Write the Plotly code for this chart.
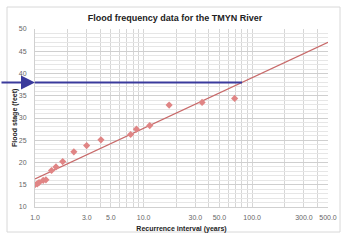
import numpy as np
import plotly.graph_objects as go

# ---- data ----
recurrence = [1.0, 1.05, 1.09, 1.19, 1.26, 1.42, 1.56, 1.80, 2.28, 2.99, 4.05,
              7.6, 8.6, 11.4, 17.2, 34.6, 69.0]
stage = [15.0, 15.2, 15.5, 16.0, 16.1, 18.2, 19.0, 20.2, 22.4, 23.8, 25.1,
         26.3, 27.5, 28.3, 32.9, 33.5, 34.4]
trend_x = [1.0, 500.0]
trend_y = [16.3, 47.0]
flood_stage = 38.0
x_ticks = [1, 3, 5, 10, 30, 50, 100, 300, 500]
x_ticktext = ["1.0", "3.0", "5.0", "10.0", "30.0", "50.0", "100.0", "300.0", "500.0"]
y_ticks = [10, 15, 20, 25, 30, 35, 40, 45, 50]

# trend line y = a + b*log10(x)
b = (trend_y[1] - trend_y[0]) / (np.log10(trend_x[1]) - np.log10(trend_x[0]))
a = trend_y[0] - b * np.log10(trend_x[0])
x_int = 10 ** ((flood_stage - a) / b)

minor_x = [m * 10 ** e for e in range(0, 3) for m in range(1, 10) if m * 10 ** e <= 500]

W, H = 350, 248
L, R, T, B = 35, 22, 29, 41
pw, ph = W - L - R, H - T - B

fig = go.Figure()
fig.add_trace(go.Scatter(x=trend_x, y=trend_y, mode="lines",
                         line=dict(color="#c86a6a", width=1.2), hoverinfo="skip"))
fig.add_trace(go.Scatter(x=recurrence, y=stage, mode="markers",
                         marker=dict(symbol="diamond", size=5.5, color="#e08585"),
                         hoverinfo="skip"))
fig.add_trace(go.Scatter(x=[trend_x[0], x_int], y=[flood_stage, flood_stage], mode="lines",
                         line=dict(color="#3a3a9c", width=2), hoverinfo="skip",
                         cliponaxis=False))

fig.add_annotation(x=0, y=flood_stage, xref="x", yref="y", ax=-36, ay=0,
                   axref="pixel", ayref="pixel", text="", showarrow=True,
                   arrowhead=2, arrowsize=1.4, arrowwidth=2, arrowcolor="#3a3a9c")

# y-axis title
fig.add_annotation(text="<b>Flood stage (feet)</b>", textangle=-90,
                   xref="paper", yref="paper", x=(15 - L) / pw, y=0.5,
                   xanchor="center", yanchor="middle", showarrow=False,
                   font=dict(size=7, color="#222222"))

# chart border
fig.add_shape(type="rect", xref="paper", yref="paper",
              x0=(7 - L) / pw, x1=(340 - L) / pw,
              y0=(H - B - 232) / ph, y1=(H - B - 7) / ph,
              line=dict(color="#d8d8d8", width=1), layer="below")

fig.update_layout(
    width=W, height=H,
    margin=dict(l=L, r=R, t=T, b=B),
    paper_bgcolor="white", plot_bgcolor="white",
    showlegend=False,
    font=dict(family="Liberation Sans, Arial, sans-serif", size=7, color="#666666"),
    title=dict(text="<b>Flood frequency data for the TMYN River</b>",
               x=0.5, xref="container", xanchor="center",
               y=1 - 18 / H, yref="container", yanchor="middle",
               font=dict(size=9, color="#222222")),
)
fig.update_xaxes(type="log", range=[0, np.log10(500)],
                 tickvals=x_ticks, ticktext=x_ticktext, showgrid=False,
                 ticks="", ticklabelstandoff=4,
                 minor=dict(tickvals=minor_x, showgrid=True, gridcolor="#d6d6d6", gridwidth=1, ticks=""),
                 showline=True, linecolor="#d0d0d0", zeroline=False, automargin=False,
                 title=dict(text="<b>Recurrence interval (years)</b>", standoff=5,
                            font=dict(size=7, color="#222222")))
fig.update_yaxes(range=[10, 50], tickvals=y_ticks, showgrid=True, gridcolor="#cfcfcf",
                 ticks="", ticklabelstandoff=6,
                 minor=dict(dtick=1, showgrid=True, gridcolor="#e6e6e6", gridwidth=1, ticks=""),
                 showline=True, linecolor="#d0d0d0", zeroline=False, automargin=False)

fig.write_html("out.html")
